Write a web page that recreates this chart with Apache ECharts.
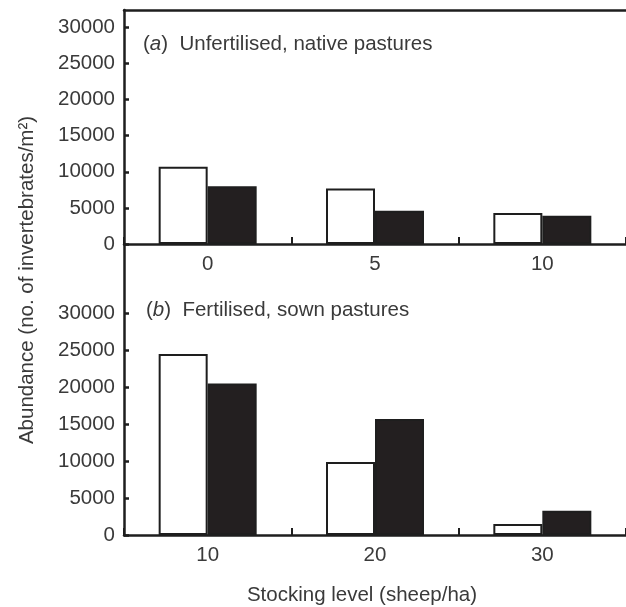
<!DOCTYPE html>
<html>
<head>
<meta charset="utf-8">
<script src="https://cdn.jsdelivr.net/npm/echarts@6/dist/echarts.min.js"></script>
<style>html,body{margin:0;padding:0;background:#fff;}#c{width:626px;height:607px;}</style>
</head>
<body>
<div id="c"></div>
<script>
const topCategories = ['0', '5', '10'];
const topOpen = [10700, 7700, 4300];
const topFilled = [8000, 4600, 3900];
const bottomCategories = ['10', '20', '30'];
const bottomOpen = [24500, 9900, 1500];
const bottomFilled = [20500, 15700, 3300];
const yTickValues = [0, 5000, 10000, 15000, 20000, 25000, 30000];

const FONT = 'Liberation Sans';
const FS = 20.5;
const TXT = '#3a3a3a';
const LINE = '#1e1e1e';
const FILL = '#231f20';

const chart = echarts.init(document.getElementById('c'), null, {renderer: 'canvas'});

function yAxis(gridIndex, max) {
  return {
    type: 'value', gridIndex: gridIndex, min: 0, max: max, z: 5,
    axisLine: {show: true, lineStyle: {color: LINE, width: 2.5}},
    axisTick: {show: true, inside: true, length: 5, customValues: yTickValues, lineStyle: {color: LINE, width: 2.5}},
    axisLabel: {show: true, customValues: yTickValues, fontFamily: FONT, fontSize: FS, color: TXT, margin: 9,
      formatter: function (v) { return String(v); }},
    splitLine: {show: false}
  };
}
function xAxis(gridIndex, cats) {
  return {
    type: 'category', gridIndex: gridIndex, data: cats, position: 'bottom',
    axisLine: {show: true, onZero: false, lineStyle: {color: LINE, width: 2.5}},
    axisTick: {show: true, inside: true, length: 7, lineStyle: {color: LINE, width: 2}},
    axisLabel: {fontFamily: FONT, fontSize: FS, color: TXT, margin: 10},
    splitLine: {show: false}
  };
}
function bar(idx, data, color) {
  return {
    type: 'bar', xAxisIndex: idx, yAxisIndex: idx, data: data,
    barWidth: 49, barGap: '0%',
    itemStyle: {color: color, borderColor: LINE, borderWidth: 2},
    silent: true, animation: false
  };
}

const option = {
  backgroundColor: '#fff',
  animation: false,
  grid: [
    {left: 124, right: -6, top: 10, height: 234},
    {left: 124, right: -6, top: 244, height: 291}
  ],
  xAxis: [
    xAxis(0, topCategories),
    xAxis(1, bottomCategories),
    {type: 'category', gridIndex: 0, data: topCategories, position: 'top',
     axisLine: {show: true, onZero: false, lineStyle: {color: LINE, width: 2.5}},
     axisTick: {show: false}, axisLabel: {show: false}}
  ],
  yAxis: [yAxis(0, 32400), yAxis(1, 39400)],
  series: [
    bar(0, topOpen, '#ffffff'),
    bar(0, topFilled, FILL),
    bar(1, bottomOpen, '#ffffff'),
    bar(1, bottomFilled, FILL)
  ],
  title: [
    {text: '({i|a})  Unfertilised, native pastures', left: 138, top: 29,
     textStyle: {fontFamily: FONT, fontSize: FS, fontWeight: 'normal', color: TXT,
       rich: {i: {fontFamily: FONT, fontSize: FS, fontStyle: 'italic', color: TXT}}}},
    {text: '({i|b})  Fertilised, sown pastures', left: 141, top: 295,
     textStyle: {fontFamily: FONT, fontSize: FS, fontWeight: 'normal', color: TXT,
       rich: {i: {fontFamily: FONT, fontSize: FS, fontStyle: 'italic', color: TXT}}}},
    {text: 'Stocking level (sheep/ha)', left: 357, textAlign: 'center', top: 580,
     textStyle: {fontFamily: FONT, fontSize: FS, fontWeight: 'normal', color: TXT}}
  ],
  graphic: [
    {type: 'text', x: 27, y: 280, rotation: Math.PI / 2,
     style: {text: 'Abundance (no. of invertebrates/m²)', fontFamily: FONT, fontSize: FS,
       fill: TXT, align: 'center', verticalAlign: 'middle'}}
  ]
};
chart.setOption(option);
</script>
</body>
</html>
